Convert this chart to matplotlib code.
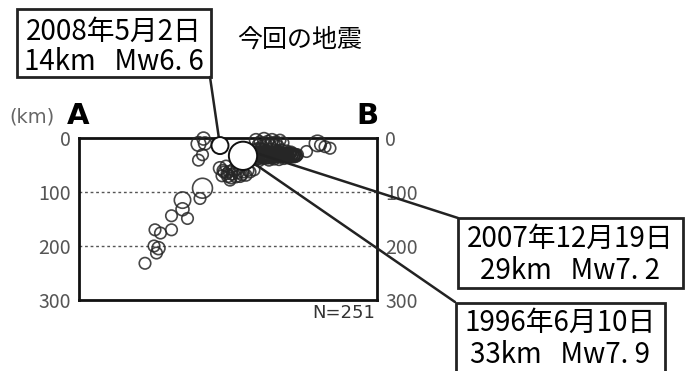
"""Cross-section A-B of hypocentres around the 2008-05-02 earthquake."""

import matplotlib

matplotlib.use("Agg")
import matplotlib.pyplot as plt
from matplotlib.patches import Rectangle

plt.rcParams["font.family"] = ["Noto Sans CJK JP", "DejaVu Sans"]

W, H = 694, 371

# Background seismicity: distance along A-B (km), depth (km), magnitude
tail_dist = [132, 155, 159, 150, 152, 163, 185, 185, 207, 217, 207, 242, 247, 239, 247, 239, 252, 249]
tail_depth = [232, 213, 204, 200, 170, 176, 170, 144, 132, 149, 115, 112, 93, 41, 31, 11, 10, 1]
tail_mag = [5.6, 5.6, 5.9, 5.6, 5.6, 5.6, 5.6, 5.6, 5.9, 5.6, 6.5, 5.6, 7.0, 5.6, 5.6, 6.2, 5.9, 5.9]

deep_dist = [282, 290, 298, 306, 314, 322, 334, 342, 294, 286, 310, 328, 350, 302,
             288, 296, 304, 318, 326, 338, 300, 316]
deep_depth = [56, 63, 70, 67, 72, 70, 69, 63, 52, 70, 59, 63, 59, 78,
              60, 66, 74, 64, 68, 60, 62, 58]
deep_mag = [5.9, 5.6, 5.9, 5.6, 5.6, 5.9, 5.6, 5.6, 5.6, 5.6, 5.9, 5.6, 5.6, 5.6,
            5.6, 5.6, 5.6, 5.6, 5.6, 5.6, 5.6, 5.6]

top_dist = [354, 362, 370, 378, 386, 394, 402, 408, 366, 382, 398, 358, 374, 390]
top_depth = [4, 7, 2, 6, 4, 7, 4, 9, 15, 13, 15, 13, 10, 10]
top_mag = [5.9, 5.6, 5.9, 5.6, 5.9, 5.6, 5.6, 5.6, 5.6, 5.6, 5.6, 5.6, 5.6, 5.6]

band_dist = [354, 357, 360, 363, 366, 369, 372, 375, 378, 381, 384, 387, 390, 393,
             396, 399, 402, 405, 408, 411, 414, 417, 420, 423, 426, 429, 432, 435,
             350, 355, 360, 365, 370, 375, 380, 385, 390, 395, 400, 405, 410, 415,
             356, 359, 362, 365, 368, 371, 374, 377, 380, 383, 386, 389, 392, 395,
             398, 401, 404, 407, 410, 413, 416, 419, 422, 425, 428, 431, 434, 437,
             352, 358, 364, 370, 376, 382, 388, 394, 400, 406, 412, 418, 424, 430, 455]
band_depth = [30, 26, 34, 28, 36, 31, 25, 33, 29, 37, 27, 32, 35, 30,
              26, 34, 28, 31, 33, 29, 32, 30, 34, 28, 31, 33, 30, 32,
              40, 22, 42, 20, 38, 24, 41, 21, 39, 23, 40, 22, 38, 24,
              33, 29, 31, 35, 27, 33, 30, 36, 32, 28, 34, 30, 33, 29,
              35, 31, 33, 29, 35, 31, 28, 33, 30, 35, 29, 32, 34, 31,
              36, 38, 26, 34, 37, 27, 36, 26, 35, 27, 34, 36, 26, 35, 25]
band_mag = [5.6] * len(band_dist)

east_dist = [477, 483, 492, 502]
east_depth = [10, 13, 16, 19]
east_mag = [6.5, 5.6, 5.6, 5.6]

# Labelled events
major_dist = [282, 358, 328]
major_depth = [14, 29, 33]
major_mag = [6.6, 7.2, 7.9]
major_line1 = ["2008年5月2日", "2007年12月19日", "1996年6月10日"]
major_line2 = ["14km   Mw6. 6", "29km   Mw7. 2", "33km   Mw7. 9"]
depth_ticks = [0, 100, 200, 300]


def marker_area(mags):
    # radius in pixels grows with magnitude, scatter wants points^2
    out = []
    for m in mags:
        r_px = 8.5 * 10 ** (0.17 * (m - 6.6))
        out.append((2 * r_px * 72 / 100) ** 2)
    return out


def fx(px):
    return px / W


def fy(py):
    return 1 - py / H


fig = plt.figure(figsize=(W / 100, H / 100), dpi=100)
ax = fig.add_axes([fx(79), fy(300), fx(377) - fx(79), (300 - 138) / H])

ring = dict(facecolors="none", edgecolors=(0.15, 0.15, 0.15, 0.85), linewidths=1.2,
            clip_on=False, zorder=3)
for d, z, m in [
    (tail_dist, tail_depth, tail_mag),
    (deep_dist, deep_depth, deep_mag),
    (top_dist, top_depth, top_mag),
    (band_dist, band_depth, band_mag),
    (east_dist, east_depth, east_mag),
]:
    ax.scatter(d, z, s=marker_area(m), **ring)

# 2007 event sits inside the cluster, the other two drawn white
ax.scatter(major_dist[1:2], major_depth[1:2], s=marker_area(major_mag[1:2]), **ring)
white = [0, 2]
ax.scatter([major_dist[i] for i in white], [major_depth[i] for i in white],
           s=marker_area([major_mag[i] for i in white]),
           facecolors="white", edgecolors="#111111", linewidths=1.4, zorder=6, clip_on=False)

for y in depth_ticks[1:3]:
    ax.axhline(y, color="#555555", lw=1.0, ls=(0, (2, 2)), zorder=1)

ax.set_xlim(0, 596)
ax.set_ylim(300, 0)
ax.set_xticks([])
ax.set_yticks(depth_ticks)
ax.tick_params(axis="y", length=0, pad=6, labelsize=14, labelcolor="#555555",
               labelleft=True, labelright=True)
for sp in ax.spines.values():
    sp.set_linewidth(2)
    sp.set_color("#111111")

# callout boxes (image pixel coords: left, top, right, bottom)
boxes = [(17, 9, 211, 77), (458, 218, 683, 288), (456, 303, 665, 395)]
anchors = [(210, 77), (458, 218), (455, 302)]
line_y = [(32, 62), (239, 271), (323, 355)]

for i, (l, t, r, b) in enumerate(boxes):
    fig.add_artist(Rectangle((fx(l), fy(b)), fx(r) - fx(l), (b - t) / H,
                             transform=fig.transFigure, fill=False,
                             edgecolor="#222222", lw=2, clip_on=False))
    cx = (l + r) / 2
    fig.text(fx(cx), fy(line_y[i][0]), major_line1[i], ha="center", va="center", fontsize=20)
    fig.text(fx(cx), fy(line_y[i][1]), major_line2[i], ha="center", va="center", fontsize=20)
    ax.annotate("", xy=(major_dist[i], major_depth[i]), xycoords="data",
                xytext=(fx(anchors[i][0]), fy(anchors[i][1])), textcoords="figure fraction",
                arrowprops=dict(arrowstyle="-", color="#222222", lw=1.8,
                                shrinkA=0, shrinkB=0),
                annotation_clip=False, zorder=4)

fig.text(fx(237), fy(40), "今回の地震", ha="left", va="center", fontsize=18)
fig.text(fx(9), fy(117), "(km)", ha="left", va="center", fontsize=14,
         color="#666666", family="DejaVu Sans")
fig.text(fx(67), fy(116), "A", ha="left", va="center", fontsize=21,
         fontweight="bold", family="DejaVu Sans")
fig.text(fx(356), fy(116), "B", ha="left", va="center", fontsize=21,
         fontweight="bold", family="DejaVu Sans")
fig.text(fx(375), fy(313), "N=251", ha="right", va="center", fontsize=13,
         color="#333333", family="DejaVu Sans")

fig.savefig("out.png", dpi=100)
